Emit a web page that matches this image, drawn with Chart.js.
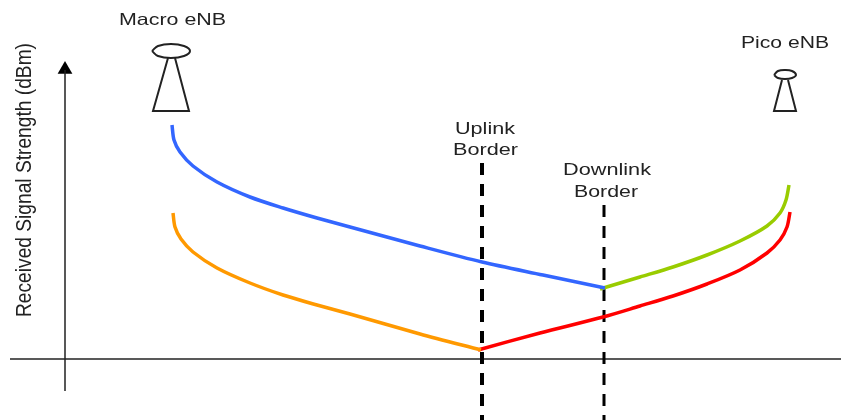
<!DOCTYPE html>
<html>
<head>
<meta charset="utf-8">
<title>Macro and Pico eNB signal strength</title>
<script src="https://cdn.jsdelivr.net/npm/chart.js@4"></script>
<style>
    html, body { margin: 0; padding: 0; background: #fff; }
    canvas { display: block; }
</style>
</head>
<body>
<canvas id="chart" width="841" height="420"></canvas>
<script>
// curves (x = distance, y = row, y axis is reversed)
const macroStrongX = [172, 174, 180, 193, 217, 250, 283, 317, 350, 420, 482, 543, 605];
const macroStrongY = [125, 140, 152, 166, 182, 197, 208, 218, 227, 246, 262, 275, 288];
const macroWeakX = [173, 175, 181, 193, 217, 250, 283, 317, 350, 420, 481];
const macroWeakY = [213, 227, 239, 252, 268, 283, 295, 305, 314, 334, 350];
const picoWeakX = [478, 540, 603, 640, 673, 707, 740, 767, 780, 787, 790];
const picoWeakY = [350, 333, 317, 306, 296, 284, 270, 253, 240, 227, 212];
const picoStrongX = [600, 640, 673, 707, 740, 767, 780, 786, 789];
const picoStrongY = [289, 277, 267, 255, 241, 226, 213, 200, 185];

// borders and axes
const uplinkX = [482, 482];
const uplinkY = [163, 420];
const downlinkX = [604, 604];
const downlinkY = [205, 420];
const yAxisX = [65, 65];
const yAxisY = [70, 391];
const xAxisX = [10, 841];
const xAxisY = [359, 359];

// towers
const macroBodyX = [168, 153, 189, 175];
const macroBodyY = [58, 111, 111, 58];
const macroDishX = [152, 158, 171, 184, 190, 184, 171, 158, 152];
const macroDishY = [51, 46, 44, 46, 51, 56, 58, 56, 51];
const picoBodyX = [782, 774, 796, 788];
const picoBodyY = [80, 111, 111, 80];
const picoDishX = [774, 778, 785, 792, 796, 792, 785, 778, 774];
const picoDishY = [75, 71, 70, 71, 75, 78, 79, 78, 75];

// text
const labelTexts = ["Macro eNB", "Pico eNB", "Uplink", "Border", "Downlink", "Border"];
const labelLeft = [119, 741, 455, 453, 563, 574];
const labelBase = [25, 48, 134, 155, 175, 197];
const labelWidth = [107, 88, 60, 65, 88, 64];
const yTitle = "Received Signal Strength (dBm)";

const INK = "#222";

function pairs(xs, ys) {
    return xs.map((x, i) => ({ x: x, y: ys[i] }));
}

function curve(xs, ys, color) {
    return { data: pairs(xs, ys), borderColor: color, borderWidth: 3.5, tension: 0.3, pointRadius: 0 };
}

function rule(xs, ys, width, dash) {
    return { data: pairs(xs, ys), borderColor: dash ? "#000" : INK, borderWidth: width, borderDash: dash || [], pointRadius: 0 };
}

function dish(xs, ys, width) {
    return { data: pairs(xs, ys), borderColor: INK, borderWidth: width, tension: 0.4, pointRadius: 0 };
}

// text is stretched to the width it has in the reference
const textPlugin = {
    id: "stretchedText",
    afterDatasetsDraw(chart) {
        const ctx = chart.ctx;
        const sx = chart.scales.x;
        const sy = chart.scales.y;
        ctx.save();
        ctx.fillStyle = INK;
        ctx.textBaseline = "alphabetic";
        ctx.font = "16.5px 'Liberation Sans'";
        labelTexts.forEach((t, i) => {
            ctx.save();
            ctx.translate(sx.getPixelForValue(labelLeft[i]), sy.getPixelForValue(labelBase[i]));
            ctx.scale(labelWidth[i] / ctx.measureText(t).width, 1);
            ctx.fillText(t, 0, 0);
            ctx.restore();
        });
        ctx.font = "22px 'Liberation Sans'";
        ctx.translate(sx.getPixelForValue(31), sy.getPixelForValue(317));
        ctx.rotate(-Math.PI / 2);
        ctx.scale(274 / ctx.measureText(yTitle).width, 1);
        ctx.fillText(yTitle, 0, 0);
        ctx.restore();
    }
};

new Chart(document.getElementById("chart").getContext("2d"), {
    type: "line",
    data: {
        datasets: [
            curve(macroStrongX, macroStrongY, "#3366ff"),
            curve(picoStrongX, picoStrongY, "#99cc00"),
            curve(macroWeakX, macroWeakY, "#ff9900"),
            curve(picoWeakX, picoWeakY, "#ff0000"),
            rule(uplinkX, uplinkY, 4, [12, 9]),
            rule(downlinkX, downlinkY, 3, [12, 9]),
            rule(yAxisX, yAxisY, 1.5),
            rule(xAxisX, xAxisY, 1.5),
            {
                data: pairs([yAxisX[0]], [69.5]),
                pointStyle: "triangle",
                pointRadius: 8.5,
                pointBackgroundColor: "#000",
                pointBorderWidth: 0,
                showLine: false
            },
            rule(macroBodyX, macroBodyY, 2),
            dish(macroDishX, macroDishY, 2),
            rule(picoBodyX, picoBodyY, 2),
            dish(picoDishX, picoDishY, 2)
        ]
    },
    options: {
        responsive: false,
        animation: false,
        layout: { padding: 0, autoPadding: false },
        scales: {
            x: { type: "linear", min: 0, max: 841, display: false },
            y: { type: "linear", min: 0, max: 420, reverse: true, display: false }
        },
        plugins: { legend: { display: false }, tooltip: { enabled: false } }
    },
    plugins: [textPlugin]
});
</script>
</body>
</html>
